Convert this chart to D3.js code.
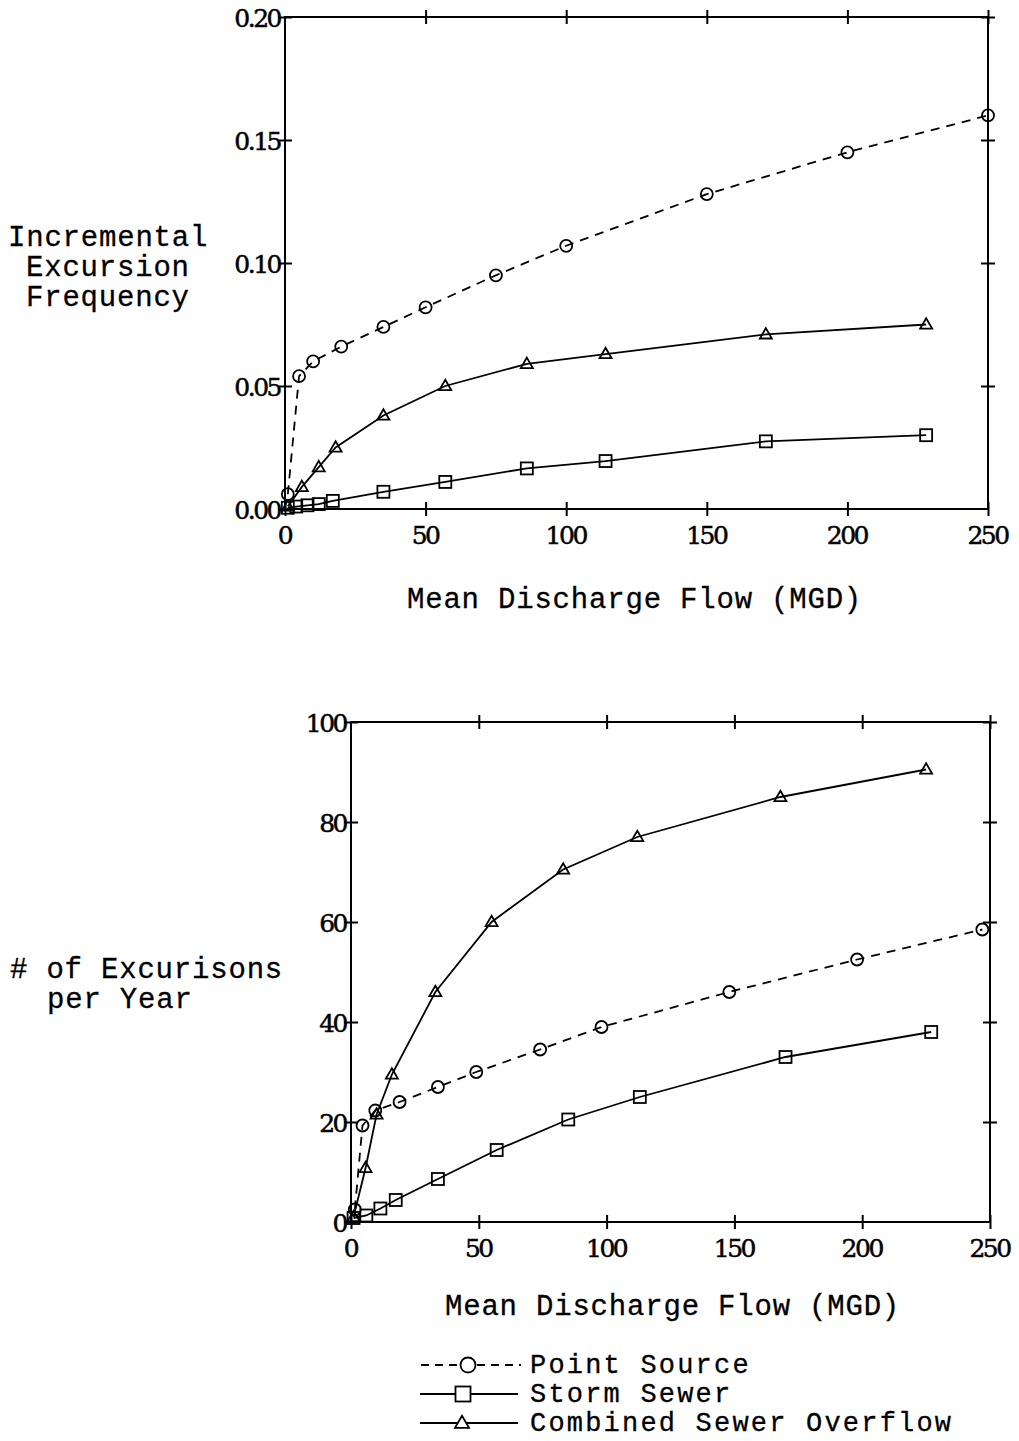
<!DOCTYPE html>
<html lang="en">
<head>
  <meta charset="UTF-8">
  <title>Excursions vs Mean Discharge Flow</title>
  <script src='https://d3js.org/d3.v7.min.js'></script>
  <style>
    html, body {
      margin: 0;
      background-color: #ffffff;
    }
    .num {
      font-family: 'DejaVu Serif', serif;
      font-size: 25px;
      letter-spacing: -2.5px;
      fill: #000;
      stroke: #000;
      stroke-width: 0.5px;
    }
    .type {
      font-family: 'Courier New', 'Liberation Mono', monospace;
      font-size: 29px;
      letter-spacing: 0.8px;
      fill: #000;
      stroke: #000;
      stroke-width: 0.3px;
    }
    .legend-text {
      font-size: 27px;
      letter-spacing: 2.2px;
    }
  </style>
</head>
<body>
  <div id='chart'></div>

  <script type='text/javascript'>
    const xTicks = [0, 50, 100, 150, 200, 250]
    const freqTicks = [0, 0.05, 0.10, 0.15, 0.20]
    const freqTickLabels = ['0.00', '0.05', '0.10', '0.15', '0.20']
    const countTicks = [0, 20, 40, 60, 80, 100]
    const seriesNames = ['Point Source', 'Storm Sewer', 'Combined Sewer Overflow']

    // top panel: incremental excursion frequency
    const freqPointFlow = [1, 5, 10, 20, 35, 50, 75, 100, 150, 200, 250]
    const freqPointVals = [0.006, 0.054, 0.060, 0.066, 0.074, 0.082, 0.095, 0.107, 0.128, 0.145, 0.160]
    const freqStormFlow = [1, 4, 8, 12, 17, 35, 57, 86, 114, 171, 228]
    const freqStormVals = [0.0005, 0.001, 0.0015, 0.002, 0.0033, 0.007, 0.011, 0.0165, 0.0195, 0.0275, 0.030]
    const freqCsoFlow = [1, 6, 12, 18, 35, 57, 86, 114, 171, 228]
    const freqCsoVals = [0.001, 0.009, 0.017, 0.025, 0.038, 0.050, 0.059, 0.063, 0.071, 0.075]

    // bottom panel: number of excursions per year
    const countPointFlow = [1.5, 4.5, 9.5, 19, 34, 49, 74, 98, 148, 198, 247]
    const countPointVals = [2.5, 19.3, 22.3, 24, 27, 30, 34.5, 39, 46, 52.5, 58.5]
    const countStormFlow = [1, 6, 11.5, 17.5, 34, 57, 85, 113, 170, 227]
    const countStormVals = [0.8, 1.3, 2.7, 4.4, 8.6, 14.4, 20.5, 25, 33, 38]
    const countCsoFlow = [1, 5.7, 10, 16, 33, 55, 83, 112, 168, 225]
    const countCsoVals = [1, 10.8, 21.5, 29.5, 46, 60, 70.5, 77, 85, 90.5]

    const svg = d3.select('#chart').append('svg')
      .attr('width', 1019)
      .attr('height', 1441)

    const zip = (xs, ys) => xs.map((x, i) => ({ x: x, y: ys[i] }))

    const marker = (g, kind, cx, cy, s) => {
      if (kind === 'circle') {
        g.append('circle').attr('cx', cx).attr('cy', cy).attr('r', s / 2)
      } else if (kind === 'square') {
        g.append('rect').attr('x', cx - s / 2).attr('y', cy - s / 2).attr('width', s).attr('height', s)
      } else {
        const h = s * 0.87
        g.append('path').attr('d', `M${cx},${cy - h * 0.6}L${cx + s / 2},${cy + h * 0.4}L${cx - s / 2},${cy + h * 0.4}Z`)
      }
    }

    const kinds = ['circle', 'square', 'triangle']
    const dashes = ['9,7', null, null]

    const drawPanel = (p) => {
      const x = d3.scaleLinear().domain([0, 250]).range([p.left, p.right])
      const y = d3.scaleLinear().domain(p.yDomain).range([p.bottom, p.top])
      const g = svg.append('g')

      // frame
      g.append('rect')
        .attr('x', p.left).attr('y', p.top)
        .attr('width', p.right - p.left).attr('height', p.bottom - p.top)
        .attr('fill', 'none').attr('stroke', '#000').attr('stroke-width', 2)

      const fixTicks = (sel, horiz) => {
        sel.attr('font-size', null).attr('font-family', null)
        sel.select('.domain').remove()
        sel.selectAll('.tick line').attr('stroke', '#000').attr('stroke-width', 2)
        if (horiz) sel.selectAll('.tick line').attr('y1', -7).attr('y2', 7)
        else sel.selectAll('.tick line').attr('x1', -7).attr('x2', 7)
        sel.selectAll('.tick text').attr('class', 'num').attr('fill', null)
      }

      g.append('g').attr('transform', `translate(0,${p.bottom})`)
        .call(d3.axisBottom(x).tickValues(xTicks).tickSize(7).tickPadding(10))
        .call(s => fixTicks(s, true))
        .call(s => s.selectAll('.tick text').attr('dx', '-1px'))
      g.append('g').attr('transform', `translate(0,${p.top})`)
        .call(d3.axisTop(x).tickValues(xTicks.slice(1)).tickSize(7).tickFormat(''))
        .call(s => fixTicks(s, true))
      g.append('g').attr('transform', `translate(${p.left},0)`)
        .call(d3.axisLeft(y).tickValues(p.yTicks).tickSize(3).tickPadding(0).tickFormat((d, i) => p.yLabels[i]))
        .call(s => fixTicks(s, false))
        .call(s => s.selectAll('.tick text').attr('dy', '0.36em').attr('dx', '-2px'))
      g.append('g').attr('transform', `translate(${p.right},0)`)
        .call(d3.axisRight(y).tickValues(p.yTicks.slice(1)).tickSize(7).tickFormat(''))
        .call(s => fixTicks(s, false))

      const line = d3.line().x(d => x(d.x)).y(d => y(d.y))
      p.series.forEach((s, i) => {
        const pts = zip(s[0], s[1])
        g.append('path')
          .attr('d', line(pts))
          .attr('fill', 'none').attr('stroke', '#000').attr('stroke-width', 1.8)
          .attr('stroke-dasharray', dashes[i])
        const mg = g.append('g').attr('fill', 'none').attr('stroke', '#000').attr('stroke-width', 1.8)
        pts.forEach(d => marker(mg, kinds[i], x(d.x), y(d.y), 12))
      })

      // axis titles
      g.append('text').attr('class', 'type')
        .attr('x', p.xTitle[0]).attr('y', p.xTitle[1])
        .text('Mean Discharge Flow (MGD)')
      p.yTitle.forEach(t => {
        g.append('text').attr('class', 'type')
          .attr('x', t[1]).attr('y', t[2])
          .text(t[0])
      })
    }

    drawPanel({
      left: 285, right: 988, top: 17, bottom: 509,
      yDomain: [0, 0.20], yTicks: freqTicks, yLabels: freqTickLabels,
      series: [[freqPointFlow, freqPointVals], [freqStormFlow, freqStormVals], [freqCsoFlow, freqCsoVals]],
      xTitle: [407, 608],
      yTitle: [['Incremental', 8, 246], ['Excursion', 26, 276], ['Frequency', 26, 306]],
    })

    drawPanel({
      left: 351, right: 990, top: 722, bottom: 1222,
      yDomain: [0, 100], yTicks: countTicks, yLabels: countTicks.map(String),
      series: [[countPointFlow, countPointVals], [countStormFlow, countStormVals], [countCsoFlow, countCsoVals]],
      xTitle: [445, 1315],
      yTitle: [['# of Excurisons', 10, 978], ['per Year', 47, 1008]],
    })

    // legend
    const legend = svg.append('g')
    seriesNames.forEach((name, i) => {
      const cy = 1365 + i * 29
      const lg = legend.append('g').attr('fill', 'none').attr('stroke', '#000').attr('stroke-width', 1.8)
      if (i === 0) {
        lg.append('line').attr('x1', 421).attr('x2', 459).attr('y1', cy).attr('y2', cy).attr('stroke-dasharray', '8,6')
        lg.append('line').attr('x1', 477).attr('x2', 521).attr('y1', cy).attr('y2', cy).attr('stroke-dasharray', '8,6')
        marker(lg.append('g').attr('fill', '#fff'), kinds[i], 468, cy, 15)
      } else {
        lg.append('line').attr('x1', 420).attr('x2', 518).attr('y1', cy).attr('y2', cy)
        marker(lg.append('g').attr('fill', '#fff'), kinds[i], i === 1 ? 463 : 462, cy, i === 1 ? 15 : 14)
      }
      legend.append('text').attr('class', 'type legend-text')
        .attr('x', 530).attr('y', cy + 8)
        .text(name)
    })
  </script>
</body>
</html>
